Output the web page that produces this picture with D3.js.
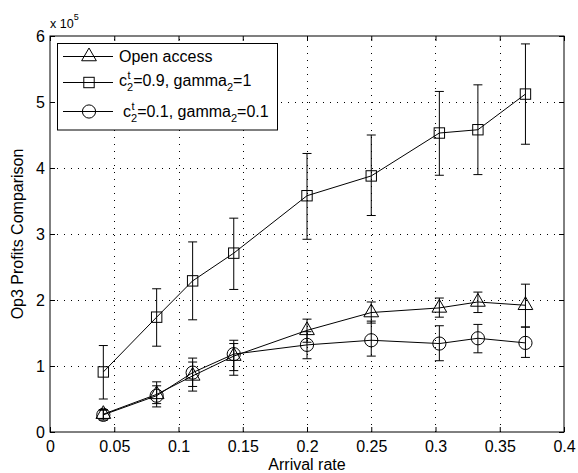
<!DOCTYPE html>
<html><head><meta charset="utf-8">
<script src="https://cdn.jsdelivr.net/npm/d3@7"></script>
<style>
body{margin:0;background:#fff}
text{font-family:"Liberation Sans",Arial,Helvetica,sans-serif;fill:#000}
</style>
</head><body>
<svg id="chart" width="578" height="473"></svg>
<script>
// ---- data (values in absolute units; axis shows x 10^5) ----
const arrivalRate = [0.0415, 0.083, 0.111, 0.143, 0.2, 0.25, 0.303, 0.333, 0.37];

const openAccess      = [27000, 57000, 85000, 115000, 154000, 181000, 188000, 197000, 192000];
const openAccessLow   = [20000, 38000, 62000, 86000, 136000, 165000, 174000, 181000, 159000];
const openAccessHigh  = [34000, 76000, 106000, 134000, 171000, 197000, 203000, 212000, 224000];

const highCost        = [91000, 174000, 229000, 271000, 358000, 388000, 453000, 458000, 512000];
const highCostLow     = [50000, 130000, 170000, 216000, 292000, 328000, 389000, 390000, 436000];
const highCostHigh    = [131000, 217000, 288000, 324000, 422000, 450000, 516000, 526000, 588000];

const lowCost         = [26000, 55000, 90000, 118000, 132000, 139000, 134000, 142000, 135000];
const lowCostLow      = [18000, 43000, 69000, 93000, 111000, 115000, 108000, 120000, 113000];
const lowCostHigh     = [33000, 70000, 112000, 139000, 152000, 168000, 161000, 163000, 159000];

const xTicks = [0, 0.05, 0.1, 0.15, 0.2, 0.25, 0.3, 0.35, 0.4];
const yTicks = [0, 100000, 200000, 300000, 400000, 500000, 600000];
const xTickLabels = ["0", "0.05", "0.1", "0.15", "0.2", "0.25", "0.3", "0.35", "0.4"];
const yTickLabels = ["0", "1", "2", "3", "4", "5", "6"];

const seriesNames = ["Open access", "c_t2=0.9, gamma_2=1", "c_t2=0.1, gamma_2=0.1"];

// ---- layout ----
const L = 50, R = 564, T = 36, B = 432;
const FS = 16;
const svg = d3.select("#chart");
const x = d3.scaleLinear().domain([0, 0.4]).range([L, R]);
const y = d3.scaleLinear().domain([0, 600000]).range([B, T]);

// grid
const grid = svg.append("g").attr("stroke", "#000").attr("stroke-width", 1)
  .attr("stroke-dasharray", "1,6").attr("shape-rendering", "crispEdges");
grid.selectAll("line.v").data(xTicks.slice(1, -1)).join("line")
  .attr("x1", d => Math.round(x(d)) + 0.5).attr("x2", d => Math.round(x(d)) + 0.5)
  .attr("y1", B).attr("y2", T);
grid.selectAll("line.h").data(yTicks.slice(1, -1)).join("line")
  .attr("y1", d => Math.round(y(d)) + 0.5).attr("y2", d => Math.round(y(d)) + 0.5)
  .attr("x1", L).attr("x2", R);

// axes
const fmtX = (d, i) => xTickLabels[i];
const fmtY = (d, i) => yTickLabels[i];
const ax = svg.append("g").attr("transform", `translate(0,${B})`)
  .call(d3.axisBottom(x).tickValues(xTicks).tickFormat(fmtX).tickSizeInner(-5).tickSizeOuter(0).tickPadding(9));
const ay = svg.append("g").attr("transform", `translate(${L},0)`)
  .call(d3.axisLeft(y).tickValues(yTicks).tickFormat(fmtY).tickSizeInner(-5).tickSizeOuter(0).tickPadding(5));
const axT = svg.append("g").attr("transform", `translate(0,${T})`)
  .call(d3.axisTop(x).tickValues(xTicks).tickFormat("").tickSizeInner(-5).tickSizeOuter(0));
const ayR = svg.append("g").attr("transform", `translate(${R},0)`)
  .call(d3.axisRight(y).tickValues(yTicks).tickFormat("").tickSizeInner(-5).tickSizeOuter(0));
[ax, ay, axT, ayR].forEach(g => {
  g.select(".domain").remove();
  g.selectAll("text").attr("font-size", FS).attr("font-family", null);
  g.selectAll("line").attr("stroke", "#000");
});

// frame
svg.append("rect").attr("x", L).attr("y", T).attr("width", R - L).attr("height", B - T)
  .attr("fill", "none").attr("stroke", "#000").attr("stroke-width", 1);

// exponent label
const ex = svg.append("text").attr("x", 50).attr("y", 28).attr("font-size", 12.5);
ex.append("tspan").text("x 10");
ex.append("tspan").attr("dy", -8).attr("font-size", 9).text("5");

// axis titles
svg.append("text").attr("x", (L + R) / 2).attr("y", 470).attr("text-anchor", "middle")
  .attr("font-size", FS).text("Arrival rate");
svg.append("text").attr("transform", `translate(23,${(T + B) / 2}) rotate(-90)`)
  .attr("text-anchor", "middle").attr("font-size", FS).text("Op3 Profits Comparison");

// markers
function drawMarker(g, type, cx, cy) {
  if (type === "tri") {
    const r = 8.5;
    g.append("path").attr("d", `M${cx},${cy - r}L${cx + r * 0.866},${cy + r / 2}L${cx - r * 0.866},${cy + r / 2}Z`)
      .attr("fill", "none").attr("stroke", "#000");
  } else if (type === "sq") {
    const s = 5.2;
    g.append("rect").attr("x", cx - s).attr("y", cy - s).attr("width", 2 * s).attr("height", 2 * s)
      .attr("fill", "none").attr("stroke", "#000");
  } else {
    g.append("circle").attr("cx", cx).attr("cy", cy).attr("r", 6.6)
      .attr("fill", "none").attr("stroke", "#000");
  }
}

const series = [
  {vals: openAccess, lo: openAccessLow, hi: openAccessHigh, m: "tri"},
  {vals: highCost, lo: highCostLow, hi: highCostHigh, m: "sq"},
  {vals: lowCost, lo: lowCostLow, hi: lowCostHigh, m: "circ"}
];
const line = d3.line().x((d, i) => x(arrivalRate[i])).y(d => y(d));
const cw = 4.5;
series.forEach(s => {
  const g = svg.append("g");
  arrivalRate.forEach((xv, i) => {
    const px = x(xv);
    g.append("line").attr("x1", px).attr("x2", px).attr("y1", y(s.lo[i])).attr("y2", y(s.hi[i])).attr("stroke", "#000");
    g.append("line").attr("x1", px - cw).attr("x2", px + cw).attr("y1", y(s.lo[i])).attr("y2", y(s.lo[i])).attr("stroke", "#000");
    g.append("line").attr("x1", px - cw).attr("x2", px + cw).attr("y1", y(s.hi[i])).attr("y2", y(s.hi[i])).attr("stroke", "#000");
  });
  g.append("path").attr("d", line(s.vals)).attr("fill", "none").attr("stroke", "#000").attr("stroke-width", 1);
  s.vals.forEach((v, i) => drawMarker(g, s.m, x(arrivalRate[i]), y(v)));
});

// legend
const lg = svg.append("g");
lg.append("rect").attr("x", 57.5).attr("y", 43.5).attr("width", 220).attr("height", 86.5)
  .attr("fill", "#fff").attr("stroke", "#000");
const rowsY = [56.5, 82.5, 111.5];
const mk = ["tri", "sq", "circ"];
rowsY.forEach((ry, i) => {
  lg.append("line").attr("x1", 63).attr("x2", 113).attr("y1", ry).attr("y2", ry).attr("stroke", "#000");
  drawMarker(lg, mk[i], 89, ry);
});
lg.append("text").attr("x", 119).attr("y", rowsY[0] + 5.5).attr("font-size", FS).text(seriesNames[0]);
function richLabel(x0, base, rest1, rest2) {
  const c = lg.append("text").attr("x", x0).attr("y", base).attr("font-size", FS).text("c");
  const w = c.node().getComputedTextLength();
  lg.append("text").attr("x", x0 + w + 0.5).attr("y", base - 6.5).attr("font-size", 11).text("t");
  const s2 = lg.append("text").attr("x", x0 + w).attr("y", base + 5.5).attr("font-size", 11).text("2");
  const w2 = s2.node().getComputedTextLength();
  const t = lg.append("text").attr("x", x0 + w + w2).attr("y", base).attr("font-size", FS).text(rest1);
  const wt = t.node().getComputedTextLength();
  const sub = lg.append("text").attr("x", x0 + w + w2 + wt).attr("y", base + 5.5).attr("font-size", 11).text("2");
  const ws = sub.node().getComputedTextLength();
  lg.append("text").attr("x", x0 + w + w2 + wt + ws).attr("y", base).attr("font-size", FS).text(rest2);
}
richLabel(119, rowsY[1] + 3, "=0.9, gamma", "=1");
richLabel(123, rowsY[2] + 5, "=0.1, gamma", "=0.1");
</script>
</body></html>
